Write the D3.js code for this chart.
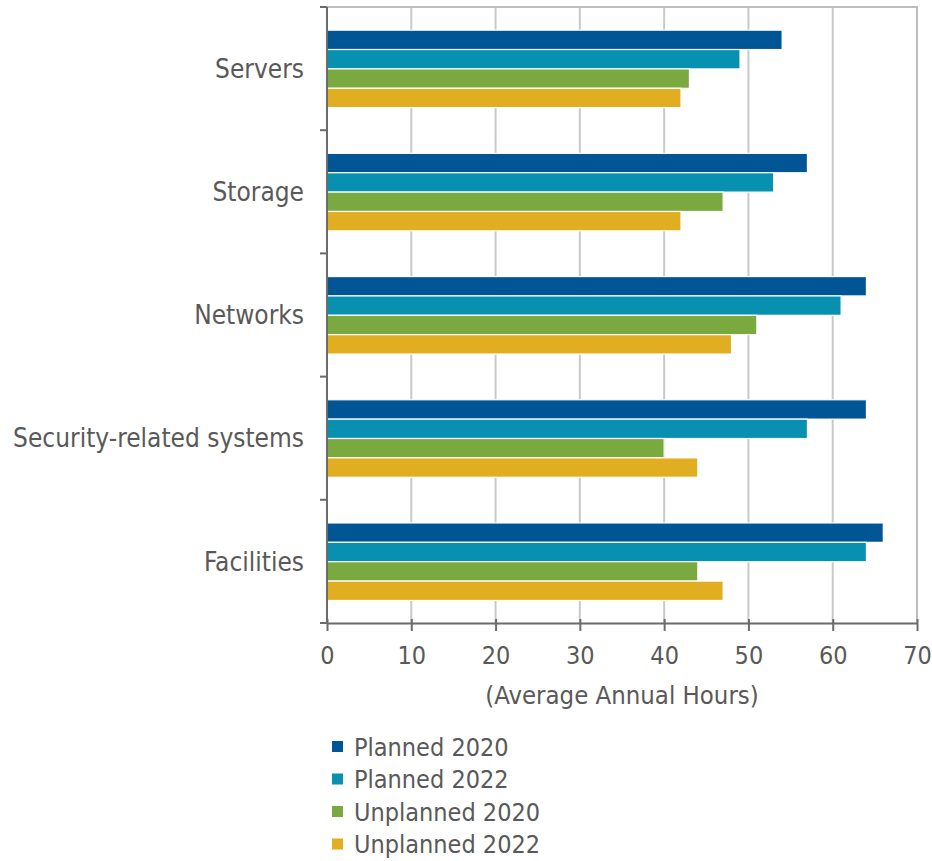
<!DOCTYPE html>
<html>
<head>
<meta charset="utf-8">
<script src="https://cdn.jsdelivr.net/npm/d3@7"></script>
<style>
    body { margin: 0; background: #fff; }
    text { font-family: "DejaVu Sans Condensed", "DejaVu Sans", Verdana, sans-serif; font-stretch: condensed; fill: #595959; }
</style>
</head>
<body>
<div id="chart"></div>
<script>
// categories top to bottom
var gCategories = ['Servers', 'Storage', 'Networks', 'Security-related systems', 'Facilities'];
var gSeriesNames = ['Planned 2020', 'Planned 2022', 'Unplanned 2020', 'Unplanned 2022'];
var gSeriesColors = ['#005595', '#0790b0', '#7aa93f', '#e0ae20'];

var gPlanned2020 = [54, 57, 64, 64, 66];
var gPlanned2022 = [49, 53, 61, 57, 64];
var gUnplanned2020 = [43, 47, 51, 40, 44];
var gUnplanned2022 = [42, 42, 48, 44, 47];

var gXTicks = [0, 10, 20, 30, 40, 50, 60, 70];
var gXTitle = '(Average Annual Hours)';

var gSeries = [gPlanned2020, gPlanned2022, gUnplanned2020, gUnplanned2022];

var gFont = '"DejaVu Sans Condensed", "DejaVu Sans", Verdana, sans-serif';

function drawChart(){
    var lWidth = 932,
        lHeight = 861,
        lMargin = { top : 7, left : 327, right : 15, bottom : 238 };

    var svg = d3.select('#chart').append('svg')
        .attr('width', lWidth)
        .attr('height', lHeight);

    var lPlotW = lWidth - lMargin.left - lMargin.right,
        lPlotH = lHeight - lMargin.top - lMargin.bottom;

    var x = d3.scaleLinear().domain([0, 70]).range([0, lPlotW]);
    var y = d3.scaleBand().domain(gCategories).range([0, lPlotH]).paddingInner(0).paddingOuter(0);
    var ySub = d3.scaleBand().domain(d3.range(gSeries.length))
        .range([y.bandwidth() * 0.188, y.bandwidth() * 0.817]).padding(0);

    var g = svg.append('g').attr('transform', 'translate(' + lMargin.left + ',' + lMargin.top + ')');

    //gridlines
    g.selectAll('.grid').data(gXTicks.slice(1, -1)).enter().append('line')
        .attr('x1', function(d){ return x(d); })
        .attr('x2', function(d){ return x(d); })
        .attr('y1', 0).attr('y2', lPlotH)
        .attr('stroke', '#c9c9c9').attr('stroke-width', 2);

    //top + right border
    g.append('path')
        .attr('d', 'M0,0H' + lPlotW + 'V' + lPlotH)
        .attr('fill', 'none').attr('stroke', '#bdbdbd').attr('stroke-width', 2);

    //bars
    var lRows = [];
    gCategories.forEach(function(c, i){
        gSeries.forEach(function(s, j){
            lRows.push({ cat : c, idx : j, value : s[i] });
        });
    });
    g.selectAll('.bar').data(lRows).enter().append('rect')
        .attr('x', 0)
        .attr('y', function(d){ return y(d.cat) + ySub(d.idx); })
        .attr('width', function(d){ return x(d.value); })
        .attr('height', ySub.bandwidth())
        .attr('fill', function(d){ return gSeriesColors[d.idx]; })
        .attr('stroke', '#fff').attr('stroke-width', 1.2);

    //x axis
    var xAxis = g.append('g').attr('transform', 'translate(0,' + lPlotH + ')')
        .call(d3.axisBottom(x).tickValues(gXTicks).tickSize(8).tickSizeOuter(0).tickPadding(15));
    xAxis.select('.domain').attr('stroke', '#6b6b6b').attr('stroke-width', 2);
    xAxis.selectAll('.tick line').attr('y1', -4).attr('stroke', '#6b6b6b').attr('stroke-width', 2);
    xAxis.selectAll('.tick text').attr('font-size', 25).style('fill', '#595959')
        .attr('font-family', gFont).style('font-stretch', 'condensed');

    //y axis with ticks between categories
    g.append('line').attr('x1', 0).attr('x2', 0).attr('y1', 0).attr('y2', lPlotH)
        .attr('stroke', '#6b6b6b').attr('stroke-width', 2);
    var lBounds = gCategories.map(function(c){ return y(c); }).concat([lPlotH]);
    g.selectAll('.ytick').data(lBounds).enter().append('line')
        .attr('x1', -7).attr('x2', 0)
        .attr('y1', function(d){ return d; }).attr('y2', function(d){ return d; })
        .attr('stroke', '#6b6b6b').attr('stroke-width', 2);
    g.selectAll('.ylabel').data(gCategories).enter().append('text')
        .attr('x', -23)
        .attr('y', function(d){ return y(d) + y.bandwidth() / 2; })
        .attr('dy', '0.35em')
        .attr('text-anchor', 'end')
        .attr('font-size', 26)
        .text(function(d){ return d; });

    //axis title
    g.append('text')
        .attr('x', x(35))
        .attr('y', lPlotH + 81)
        .attr('text-anchor', 'middle')
        .attr('font-size', 25.5)
        .text(gXTitle);

    //legend
    var lLegend = svg.append('g').attr('transform', 'translate(332,747)');
    var lItems = lLegend.selectAll('.item').data(gSeriesNames).enter().append('g')
        .attr('transform', function(d, i){ return 'translate(0,' + (i * 32.5) + ')'; });
    lItems.append('rect')
        .attr('x', 0).attr('y', -6).attr('width', 11).attr('height', 11)
        .attr('fill', function(d, i){ return gSeriesColors[i]; });
    lItems.append('text')
        .attr('x', 22).attr('dy', '0.35em')
        .attr('font-size', 25)
        .text(function(d){ return d; });
}

drawChart();
</script>
</body>
</html>
